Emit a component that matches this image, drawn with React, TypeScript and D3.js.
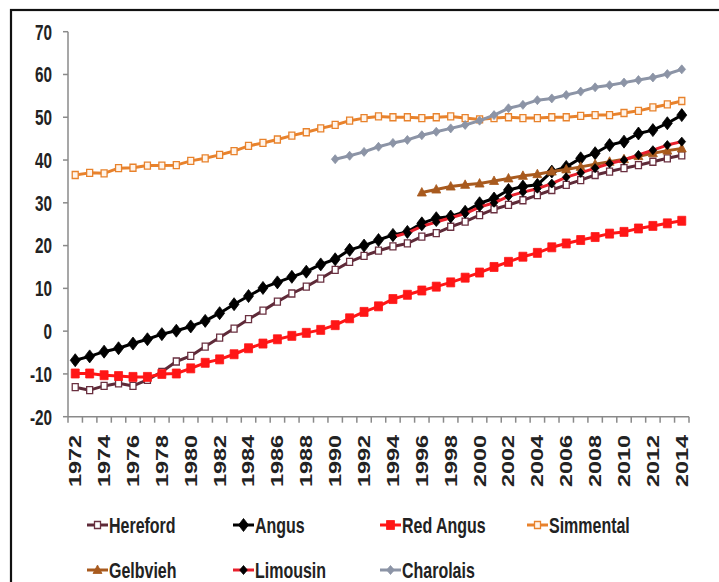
import React from "react";
import * as d3 from "d3";

const years: number[] = d3.range(1972, 2015);
const yTicks: number[] = [-20, -10, 0, 10, 20, 30, 40, 50, 60, 70];

const hereford: (number | null)[] = [-13.1, -13.8, -12.8, -12.2, -12.8, -11.4, -9.5, -7.1, -5.8, -3.6, -1.5, 0.6, 2.8, 4.8, 6.9, 8.8, 10.4, 12.3, 14.3, 16.2, 17.6, 18.8, 19.8, 20.5, 22.1, 22.9, 24.4, 25.6, 27.1, 28.5, 29.5, 30.6, 31.8, 33.0, 34.2, 35.3, 36.5, 37.3, 38.1, 38.8, 39.6, 40.4, 41.1];
const angus: (number | null)[] = [-6.8, -5.9, -4.8, -4.0, -2.9, -1.9, -0.7, 0.1, 1.1, 2.4, 4.2, 6.3, 8.2, 10.1, 11.4, 12.7, 13.9, 15.6, 16.8, 19.0, 20.0, 21.3, 22.5, 23.2, 25.2, 26.4, 26.8, 27.9, 29.9, 31.0, 33.0, 33.8, 34.2, 37.3, 38.4, 40.4, 41.6, 43.5, 44.3, 46.2, 47.0, 48.6, 50.5];
const redAngus: (number | null)[] = [-9.9, -9.9, -10.3, -10.5, -10.7, -10.7, -10.0, -9.9, -8.7, -7.4, -6.6, -5.4, -4.0, -2.9, -1.9, -1.1, -0.4, 0.3, 1.4, 3.0, 4.5, 5.8, 7.5, 8.5, 9.5, 10.4, 11.4, 12.5, 13.7, 15.0, 16.2, 17.4, 18.3, 19.6, 20.5, 21.3, 22.0, 22.8, 23.2, 24.0, 24.6, 25.2, 25.8];
const simmental: (number | null)[] = [36.5, 37.0, 36.9, 38.1, 38.2, 38.7, 38.7, 38.8, 39.8, 40.4, 41.2, 42.1, 43.3, 44.0, 44.8, 45.7, 46.5, 47.4, 48.2, 49.2, 49.8, 50.2, 50.0, 50.0, 49.8, 50.0, 50.2, 49.8, 49.5, 49.8, 50.0, 49.8, 49.8, 50.0, 50.0, 50.3, 50.5, 50.5, 51.0, 51.5, 52.3, 53.0, 53.8];
const gelbvieh: (number | null)[] = [null, null, null, null, null, null, null, null, null, null, null, null, null, null, null, null, null, null, null, null, null, null, null, null, 32.4, 33.1, 33.8, 34.2, 34.5, 35.1, 35.7, 36.3, 36.7, 37.3, 37.8, 38.4, 39.0, 39.6, 40.2, 40.9, 41.6, 42.2, 42.7];
const limousin: (number | null)[] = [null, null, null, null, null, null, null, null, null, null, null, null, null, null, null, null, null, null, null, null, null, null, 22.0, 23.0, 24.5, 25.5, 26.5, 27.5, 29.0, 30.0, 31.5, 32.5, 33.3, 34.5, 36.0, 37.0, 38.1, 39.2, 40.0, 41.2, 42.3, 43.5, 44.3];
const charolais: (number | null)[] = [null, null, null, null, null, null, null, null, null, null, null, null, null, null, null, null, null, null, 40.2, 41.0, 41.9, 43.1, 44.0, 44.7, 45.8, 46.6, 47.4, 48.2, 49.2, 50.5, 52.1, 52.9, 54.0, 54.4, 55.2, 56.0, 57.0, 57.5, 58.1, 58.7, 59.3, 60.1, 61.2];

type Marker = "square" | "diamond" | "triangle" | "bigsquare" | "smalldiamond";
interface Series {
  name: string;
  values: (number | null)[];
  line: string;
  marker: Marker;
  fill: string;
  stroke: string;
}

const seriesList: Series[] = [
  { name: "Hereford", values: hereford, line: "#5e2a38", marker: "square", fill: "#ffffff", stroke: "#6a3040" },
  { name: "Angus", values: angus, line: "#000000", marker: "diamond", fill: "#000000", stroke: "#000000" },
  { name: "Red Angus", values: redAngus, line: "#ff1616", marker: "bigsquare", fill: "#ff1616", stroke: "#ff1616" },
  { name: "Simmental", values: simmental, line: "#e8822c", marker: "square", fill: "#fff4ea", stroke: "#e8822c" },
  { name: "Gelbvieh", values: gelbvieh, line: "#a85a1e", marker: "triangle", fill: "#a85a1e", stroke: "#a85a1e" },
  { name: "Limousin", values: limousin, line: "#e8202c", marker: "smalldiamond", fill: "#000000", stroke: "#000000" },
  { name: "Charolais", values: charolais, line: "#8c94a6", marker: "smalldiamond", fill: "#8c94a6", stroke: "#8c94a6" },
];

const markerPath = (m: Marker): string => {
  switch (m) {
    case "square":
      return "M-3,-3.5H3V3.5H-3Z";
    case "bigsquare":
      return "M-4,-4.5H4V4.5H-4Z";
    case "diamond":
      return "M0,-6.5L5,0L0,6.5L-5,0Z";
    case "smalldiamond":
      return "M0,-4.5L3.8,0L0,4.5L-3.8,0Z";
    case "triangle":
      return "M0,-5L4.5,3.5H-4.5Z";
  }
};

const W = 719;
const H = 582;
const plotLeft = 68;
const plotRight = 689;
const plotTop = 31.7;
const plotBottom = 416.7;
const SY = 1.42;
const FONT = "'Liberation Sans', Arial, sans-serif";

export default function App() {
  const x = d3.scaleBand<number>().domain(years).range([plotLeft, plotRight]);
  const y = d3.scaleLinear().domain([-20, 70]).range([plotBottom, plotTop]);
  const cx = (yr: number) => (x(yr) as number) + x.bandwidth() / 2;

  const line = d3
    .line<number | null>()
    .defined((d) => d !== null)
    .x((_, i) => cx(years[i]))
    .y((d) => y(d as number));

  const boundaries = years.map((yr) => x(yr) as number).concat([plotRight]);

  const legendCols = [87, 233, 380, 527];
  const legendRows = [525, 570];

  return (
    <svg width={W} height={H} style={{ position: "absolute", left: 0, top: 0, background: "#fff" }}>
      <rect x={0} y={0} width={W} height={H} fill="#fff" />
      <rect x={11} y={10} width={W + 20} height={H + 20} fill="none" stroke="#111" strokeWidth={2.2} />

      {/* y axis */}
      <line x1={plotLeft} x2={plotLeft} y1={plotTop} y2={plotBottom} stroke="#8a8a8a" strokeWidth={1.5} />
      {yTicks.map((t) => (
        <g key={t}>
          <line x1={plotLeft - 5} x2={plotLeft} y1={y(t)} y2={y(t)} stroke="#8a8a8a" strokeWidth={1.5} />
          <text
            transform={`translate(52,${y(t)}) scale(1,${SY})`}
            textAnchor="end"
            dy="0.36em"
            fontFamily={FONT}
            fontWeight="bold"
            fontSize={15.3}
            fill="#222"
          >
            {t}
          </text>
        </g>
      ))}

      {/* x axis */}
      <line x1={plotLeft} x2={plotRight} y1={plotBottom} y2={plotBottom} stroke="#8a8a8a" strokeWidth={1.5} />
      {boundaries.map((b, i) => (
        <line key={i} x1={b} x2={b} y1={plotBottom} y2={plotBottom + 6} stroke="#8a8a8a" strokeWidth={1.5} />
      ))}
      {years
        .filter((yr) => (yr - 1972) % 2 === 0)
        .map((yr) => (
          <text
            key={yr}
            transform={`translate(${cx(yr)},435) scale(1,${SY}) rotate(-90)`}
            textAnchor="end"
            dy="0.36em"
            fontFamily={FONT}
            fontWeight="bold"
            fontSize={16.5}
            fill="#222"
          >
            {yr}
          </text>
        ))}

      {/* series */}
      {seriesList.map((s) => (
        <g key={s.name}>
          <path d={line(s.values) || ""} fill="none" stroke={s.line} strokeWidth={3} strokeLinejoin="round" />
          {s.values.map((v, i) =>
            v === null ? null : (
              <path
                key={i}
                d={markerPath(s.marker)}
                transform={`translate(${cx(years[i])},${y(v)})`}
                fill={s.fill}
                stroke={s.stroke}
                strokeWidth={s.marker === "square" ? 1.3 : 0.8}
              />
            )
          )}
        </g>
      ))}

      {/* legend */}
      {seriesList.map((s, k) => {
        const lx = legendCols[k % 4];
        const ly = legendRows[Math.floor(k / 4)];
        return (
          <g key={s.name}>
            <line x1={lx} x2={lx + 21} y1={ly} y2={ly} stroke={s.line} strokeWidth={3} />
            <path d={markerPath(s.marker)} transform={`translate(${lx + 10.5},${ly})`} fill={s.fill} stroke={s.stroke} strokeWidth={s.marker === "square" ? 1.3 : 0.8} />
            <text
              transform={`translate(${lx + 22},${ly}) scale(1,${SY})`}
              dy="0.36em"
              fontFamily={FONT}
              fontWeight="bold"
              fontSize={16}
              fill="#222"
            >
              {s.name}
            </text>
          </g>
        );
      })}
    </svg>
  );
}
